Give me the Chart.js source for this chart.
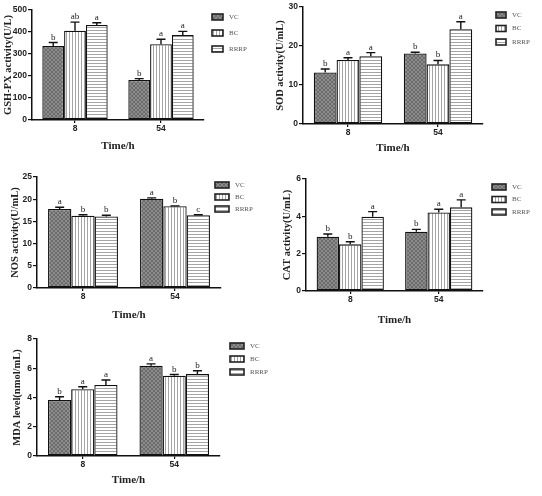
<!DOCTYPE html>
<html>
<head>
<meta charset="utf-8">
<script src="https://cdn.jsdelivr.net/npm/chart.js@4"></script>
<style>
  html, body { margin: 0; padding: 0; background: #fff; }
  #wrap { position: relative; width: 542px; height: 496px; }
  .panel { position: absolute; }
</style>
</head>
<body>
<div id="wrap">
  <div class="panel" style="left:0;top:0;width:270px;height:160px"><canvas id="gsh"></canvas></div>
  <div class="panel" style="left:270px;top:0;width:272px;height:160px"><canvas id="sod"></canvas></div>
  <div class="panel" style="left:0;top:165px;width:270px;height:165px"><canvas id="nos"></canvas></div>
  <div class="panel" style="left:270px;top:165px;width:272px;height:165px"><canvas id="cat"></canvas></div>
  <div class="panel" style="left:0;top:325px;width:270px;height:171px"><canvas id="mda"></canvas></div>
</div>
<script>
// ─── DATA ──────────────────────────────────────────────────
const timeLabels = ['8', '54'];
const groupNames = ['VC', 'BC', 'RRRP'];

// rows = VC, BC, RRRP ; columns = 8 h, 54 h
const gshMean = [[336, 182], [406, 344], [432, 386]];
const gshErr = [[16, 6], [39, 23], [10, 17]];
const gshLetters = [['b', 'b'], ['ab', 'a'], ['a', 'a']];

const sodMean = [[13.2, 18.1], [16.4, 15.3], [17.4, 24.3]];
const sodErr = [[0.9, 0.3], [0.6, 1.0], [0.9, 1.9]];
const sodLetters = [['b', 'b'], ['a', 'b'], ['a', 'a']];

const nosMean = [[17.8, 20.1], [16.3, 18.4], [16.1, 16.4]];
const nosErr = [[0.4, 0.2], [0.2, 0.1], [0.3, 0.1]];
const nosLetters = [['a', 'a'], ['b', 'b'], ['b', 'c']];

const catMean = [[2.91, 3.18], [2.5, 4.21], [3.98, 4.48]];
const catErr = [[0.14, 0.12], [0.14, 0.17], [0.27, 0.4]];
const catLetters = [['b', 'b'], ['b', 'a'], ['a', 'a']];

const mdaMean = [[3.83, 6.17], [4.56, 5.49], [4.85, 5.6]];
const mdaErr = [[0.22, 0.13], [0.18, 0.08], [0.35, 0.23]];
const mdaLetters = [['b', 'a'], ['a', 'b'], ['a', 'b']];

// ─── FILL PATTERNS ─────────────────────────────────────────
function makePattern(kind) {
  const c = document.createElement('canvas');
  const g = c.getContext('2d');
  if (kind === 'cross') {
    c.width = 4; c.height = 4;
    g.fillStyle = '#8c8c8c'; g.fillRect(0, 0, 4, 4);
    g.fillStyle = '#6c6c6c';
    for (let i = 0; i < 4; i++) { g.fillRect(i, i, 1, 1); g.fillRect(3 - i, i, 1, 1); }
  } else if (kind === 'vert') {
    c.width = 3; c.height = 3;
    g.fillStyle = '#fff'; g.fillRect(0, 0, 3, 3);
    g.fillStyle = '#a4a4a4'; g.fillRect(0, 0, 1, 3);
  } else {
    c.width = 3; c.height = 3;
    g.fillStyle = '#fff'; g.fillRect(0, 0, 3, 3);
    g.fillStyle = '#a4a4a4'; g.fillRect(0, 0, 3, 1);
  }
  return g.createPattern(c, 'repeat');
}
const FILLS = [makePattern('cross'), makePattern('vert'), makePattern('horiz')];

// ─── PLUGINS ───────────────────────────────────────────────
const errorBars = {
  id: 'errorBars',
  afterDatasetsDraw(chart) {
    const ctx = chart.ctx;
    const y = chart.scales.y;
    ctx.save();
    chart.data.datasets.forEach((ds, i) => {
      chart.getDatasetMeta(i).data.forEach((bar, j) => {
        const top = y.getPixelForValue(ds.data[j] + ds.errors[j]);
        ctx.strokeStyle = '#111';
        ctx.lineWidth = 1.4;
        ctx.beginPath();
        ctx.moveTo(bar.x, bar.y);
        ctx.lineTo(bar.x, top);
        ctx.moveTo(bar.x - 4.5, top);
        ctx.lineTo(bar.x + 4.5, top);
        ctx.stroke();
        ctx.fillStyle = '#222';
        ctx.font = '9px "Liberation Serif"';
        ctx.textAlign = 'center';
        ctx.textBaseline = 'alphabetic';
        ctx.fillText(ds.letters[j], bar.x, top - 3);
      });
    });
    ctx.restore();
  }
};

const boxLegend = {
  id: 'boxLegend',
  afterDraw(chart, args, opts) {
    const ctx = chart.ctx;
    ctx.save();
    chart.data.datasets.forEach((ds, i) => {
      const cy = opts.y + i * opts.dy;
      ctx.fillStyle = ds.backgroundColor;
      ctx.fillRect(opts.x, cy - 3, opts.w, 6);
      ctx.strokeStyle = '#222';
      ctx.lineWidth = 1.6;
      ctx.strokeRect(opts.x, cy - 3, opts.w, 6);
      ctx.fillStyle = '#555';
      ctx.font = '7px "Liberation Serif"';
      ctx.textAlign = 'left';
      ctx.textBaseline = 'middle';
      ctx.fillText(ds.label, opts.x + opts.w + 6, cy);
    });
    ctx.restore();
  }
};

// ─── BUILD ONE PANEL ───────────────────────────────────────
function buildPanel(id, means, errs, letters, yTitle, yMax, yStep, lay) {
  const datasets = groupNames.map((name, i) => ({
    label: name,
    data: means[i],
    errors: errs[i],
    letters: letters[i],
    backgroundColor: FILLS[i],
    borderColor: '#111',
    borderWidth: 1.3,
    borderSkipped: false,
    categoryPercentage: 0.76,
    barPercentage: 1
  }));

  new Chart(document.getElementById(id), {
    type: 'bar',
    data: { labels: timeLabels, datasets },
    plugins: [errorBars, boxLegend],
    options: {
      responsive: true,
      maintainAspectRatio: false,
      animation: false,
      layout: { padding: { top: lay.top, right: lay.right, left: 0, bottom: 0 } },
      plugins: {
        legend: { display: false },
        tooltip: { enabled: false },
        boxLegend: lay.legend
      },
      scales: {
        x: {
          offset: true,
          grid: { display: true, drawOnChartArea: false, offset: false, color: '#111', tickLength: 3, lineWidth: 1.2 },
          border: { color: '#111', width: 1.5 },
          ticks: { color: '#222', font: { family: 'Liberation Sans', size: 8.5, weight: 'bold' }, padding: 1 },
          title: {
            display: true, text: 'Time/h', color: '#222',
            font: { family: 'Liberation Serif', size: 11, weight: 'bold' },
            padding: { top: 0, bottom: lay.xTitlePad }
          },
          afterFit: s => { s.height = lay.xH; }
        },
        y: {
          min: 0, max: yMax,
          grid: { display: true, drawOnChartArea: false, color: '#111', tickLength: 4, lineWidth: 1.2 },
          border: { color: '#111', width: 1.5 },
          ticks: { stepSize: yStep, color: '#222', font: { family: 'Liberation Sans', size: 8.5, weight: 'bold' }, padding: 1 },
          title: {
            display: true, text: yTitle, color: '#222',
            font: { family: 'Liberation Serif', size: 10.5, weight: 'bold' },
            padding: { top: lay.yTitlePad, bottom: 0 }
          },
          afterFit: s => { s.width = lay.yW; }
        }
      }
    }
  });
}

// ─── INITIALIZE ────────────────────────────────────────────
buildPanel('gsh', gshMean, gshErr, gshLetters, 'GSH-PX activity(U/L)', 500, 100,
  { top: 10, right: 66, xH: 40, yW: 32, xTitlePad: 7, yTitlePad: 2, legend: { x: 212, y: 17, dy: 16, w: 11 } });
buildPanel('sod', sodMean, sodErr, sodLetters, 'SOD activity(U/mL)', 30, 10,
  { top: 7, right: 59, xH: 36, yW: 33, xTitlePad: 5, yTitlePad: 4, legend: { x: 226, y: 15, dy: 13.5, w: 10 } });
buildPanel('nos', nosMean, nosErr, nosLetters, 'NOS activity(U/mL)', 25, 5,
  { top: 12, right: 49, xH: 42, yW: 37, xTitlePad: 8, yTitlePad: 9, legend: { x: 215, y: 20, dy: 12, w: 14 } });
buildPanel('cat', catMean, catErr, catLetters, 'CAT activity(U/mL)', 6, 2,
  { top: 14, right: 59, xH: 39, yW: 36, xTitlePad: 3, yTitlePad: 11, legend: { x: 222, y: 22, dy: 12.5, w: 14 } });
buildPanel('mda', mdaMean, mdaErr, mdaLetters, 'MDA level(nmol/mL)', 8, 2,
  { top: 14, right: 50, xH: 40, yW: 37, xTitlePad: 9, yTitlePad: 11, legend: { x: 230, y: 21, dy: 13, w: 14 } });
</script>
</body>
</html>
